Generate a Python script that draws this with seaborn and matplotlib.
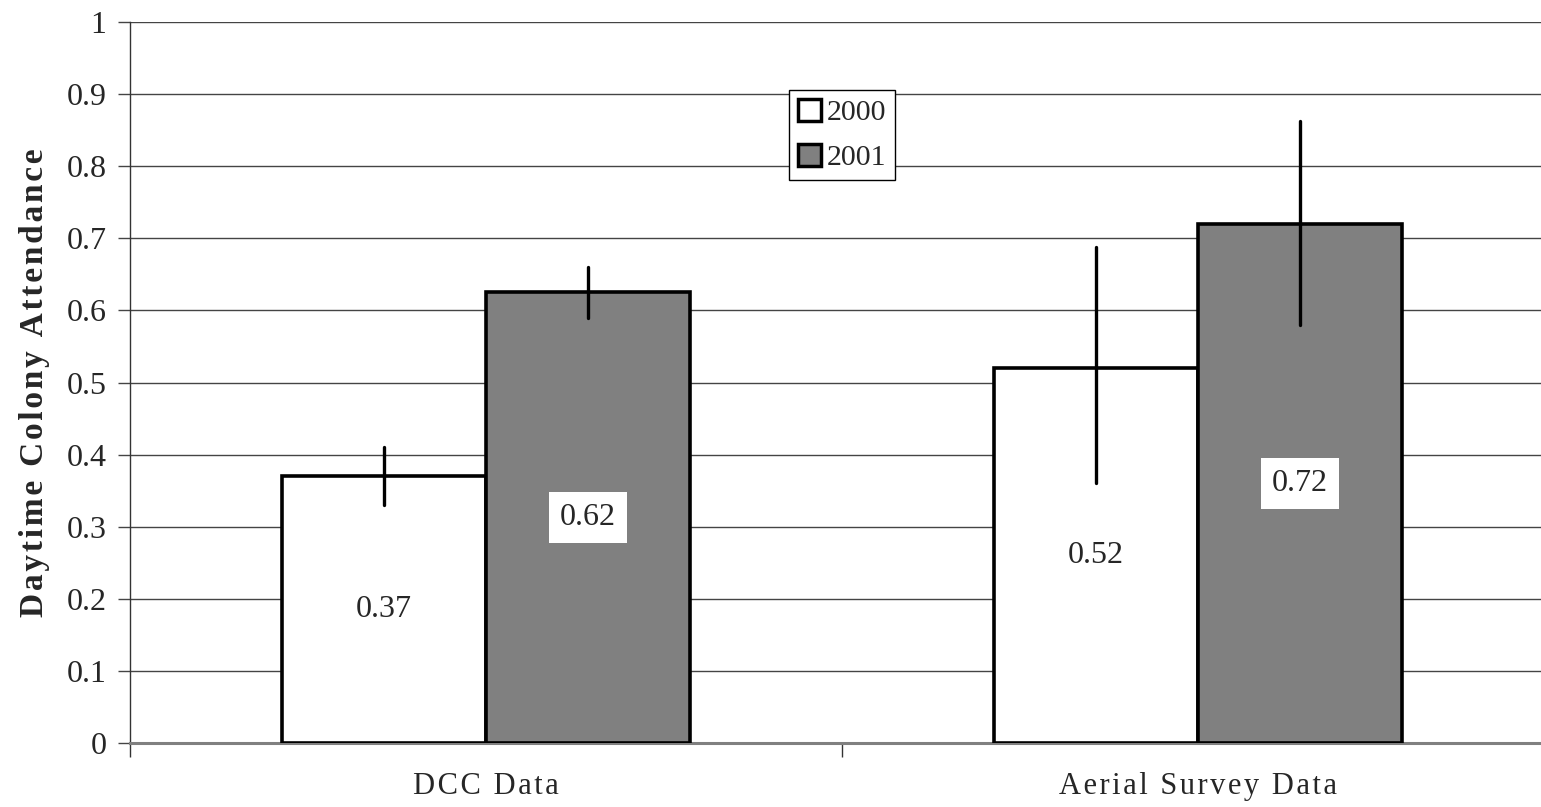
import pandas as pd
import numpy as np
import matplotlib
matplotlib.use('Agg')
import matplotlib.pyplot as plt
from matplotlib.patches import Patch
import seaborn as sns

# ---- data ----
datasets = ['DCC Data', 'Aerial Survey Data']
years = ['2000', '2001']
attendance_2000 = [0.37, 0.52]
attendance_2001 = [0.625, 0.72]
err_low_2000 = [0.33, 0.36]
err_high_2000 = [0.41, 0.688]
err_low_2001 = [0.59, 0.58]
err_high_2001 = [0.66, 0.862]
value_labels_2000 = ['0.37', '0.52']
value_labels_2001 = ['0.62', '0.72']
y_ticks = [0, 0.1, 0.2, 0.3, 0.4, 0.5, 0.6, 0.7, 0.8, 0.9, 1]

df = pd.DataFrame({
    'dataset': datasets * 2,
    'year': [years[0]] * 2 + [years[1]] * 2,
    'attendance': attendance_2000 + attendance_2001,
})

sns.set_style('white')
plt.rcParams['font.family'] = ['Liberation Serif', 'DejaVu Serif']


def spaced(s):
    # hair spaces between letters, the original is letter-spaced
    return '\u200a'.join(s)


fig = plt.figure(figsize=(15.41, 8.07), dpi=100)
ax = fig.add_axes([130 / 1541, 64 / 807, 1424 / 1541, 721 / 807])

sns.barplot(data=df, x='dataset', y='attendance', hue='year',
            palette=['white', '#808080'], edgecolor='black', linewidth=2.6,
            width=0.573, gap=0, errorbar=None, saturation=1, ax=ax, zorder=3)

# error bars + value labels
lows = [err_low_2000, err_low_2001]
highs = [err_high_2000, err_high_2001]
vals = [attendance_2000, attendance_2001]
labels = [value_labels_2000, value_labels_2001]
for k, cont in enumerate(ax.containers):
    for i, p in enumerate(cont.patches):
        xc = p.get_x() + p.get_width() / 2
        ax.plot([xc, xc], [lows[k][i], highs[k][i]], color='black', lw=2.4,
                solid_capstyle='round', zorder=4)
        ax.text(xc, vals[k][i] / 2, labels[k][i], ha='center', va='center',
                fontsize=23, zorder=5,
                bbox=dict(facecolor='white', edgecolor='none', pad=8))

ax.set_ylim(0, 1)
ax.set_xlim(-0.5, 1.5)
ax.set_yticks(y_ticks)
ax.set_yticklabels([f'{t:g}' for t in y_ticks], fontsize=23)
ax.yaxis.grid(True, color='#444444', lw=1)
ax.set_axisbelow(True)
ax.tick_params(axis='y', which='major', left=True, length=9, width=1,
               color='#444444', pad=8)

# x: labels at category centers, tick marks at boundaries
ax.set_xticks([0, 1])
ax.set_xticklabels([spaced(d) for d in datasets], fontsize=22)
ax.tick_params(axis='x', which='major', length=0, pad=21)
ax.set_xticks([-0.5, 0.5, 1.5], minor=True)
ax.tick_params(axis='x', which='minor', bottom=True, length=10, width=1,
               color='#333333')

ax.set_xlabel('')
ax.set_ylabel(spaced('Daytime Colony Attendance'), fontsize=24,
              fontweight='bold', labelpad=12)

for s in ['top', 'right']:
    ax.spines[s].set_visible(False)
ax.spines['left'].set_color('#333333')
ax.spines['left'].set_linewidth(1)
ax.spines['bottom'].set_color('#808080')
ax.spines['bottom'].set_linewidth(2.2)

handles = [Patch(facecolor='white', edgecolor='black', lw=2.5, label=years[0]),
           Patch(facecolor='#808080', edgecolor='black', lw=2.5, label=years[1])]
ax.legend(handles=handles, loc='upper left', bbox_to_anchor=(0.463, 0.906),
          borderaxespad=0, fontsize=21.5, frameon=True, fancybox=False,
          edgecolor='black', framealpha=1, handlelength=0.75,
          handleheight=0.75, handletextpad=0.2, borderpad=0.3,
          labelspacing=0.6)
ax.get_legend().get_frame().set_linewidth(1)
ax.get_legend().set_zorder(6)

fig.savefig('out.png', dpi=100)
